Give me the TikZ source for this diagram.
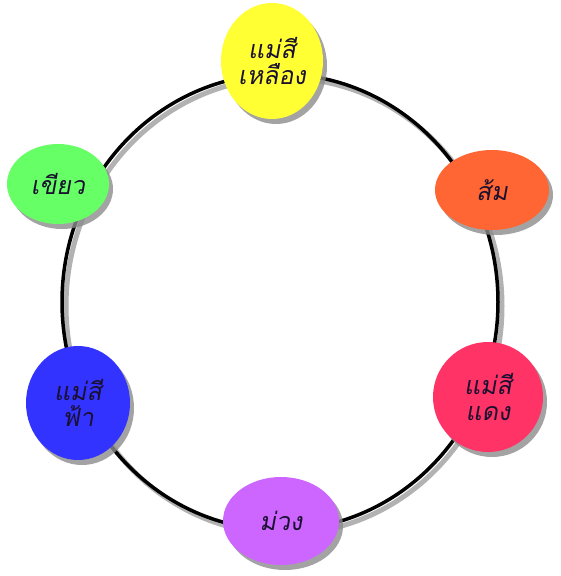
\documentclass[tikz,border=0pt]{standalone}
\usepackage{fontspec}
\newfontfamily\thaifont[Script=Thai,FakeSlant=0.18]{Loma}
\usetikzlibrary{shapes.geometric,shadows}
\definecolor{cyellow}{HTML}{FFFF33}
\definecolor{corange}{HTML}{FF6633}
\definecolor{cred}{HTML}{FF3366}
\definecolor{cpurple}{HTML}{CC66FF}
\definecolor{cblue}{HTML}{3333FF}
\definecolor{cgreen}{HTML}{66FF66}
\definecolor{ctext}{HTML}{1A1030}
\tikzset{
  blob/.style={ellipse, inner sep=0pt, draw=none,
    drop shadow={shadow xshift=4pt, shadow yshift=-5pt, fill=black!45, opacity=0.8},
    font=\thaifont\fontsize{25}{30}\selectfont, text=ctext, align=center},
  ring/.style={line width=3.5pt, draw=black},
  ringshadow/.style={line width=5pt, draw=black!30}
}
\begin{document}
\begin{tikzpicture}[x=1pt,y=-1pt]
\useasboundingbox (0,0) rectangle (560,576);
\fill[white] (0,0) rectangle (560,576);
\coordinate (c) at (280,302);
\draw[ringshadow] (284,306) ellipse [x radius=218, y radius=228];
\draw[ring] (c) ellipse [x radius=218, y radius=228];
\node[blob, fill=cyellow, minimum width=102pt, minimum height=116pt] (yellow) at (272,61) {แม่สี\\[-4pt]เหลือง};
\node[blob, fill=corange, minimum width=114pt, minimum height=80pt] (orange) at (492,190) {ส้ม};
\node[blob, fill=cred, minimum width=110pt, minimum height=110pt] (red) at (488,397) {แม่สี\\[-4pt]แดง};
\node[blob, fill=cpurple, minimum width=116pt, minimum height=88pt] (purple) at (281,521) {ม่วง};
\node[blob, fill=cblue, minimum width=104pt, minimum height=114pt] (blue) at (78,403) {แม่สี\\[-4pt]ฟ้า};
\node[blob, fill=cgreen, minimum width=102pt, minimum height=80pt] (green) at (58,184) {เขียว};
\end{tikzpicture}
\end{document}
